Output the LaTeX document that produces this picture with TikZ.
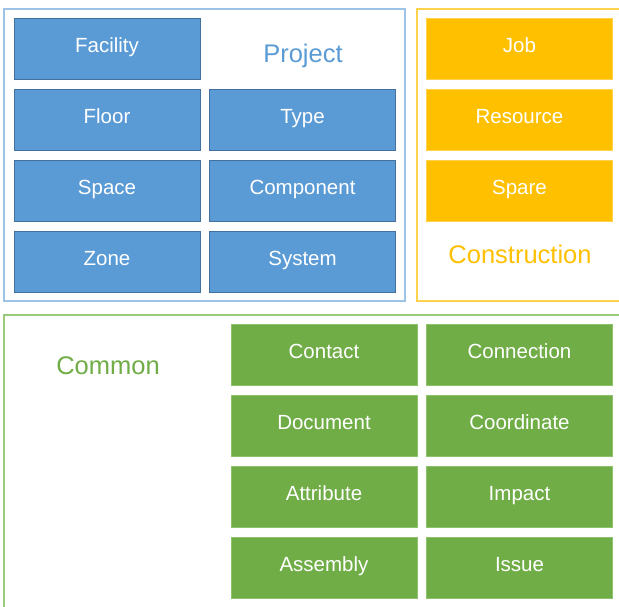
\documentclass[tikz,border=0pt]{standalone}
\usepackage{fontspec}
\setmainfont{Liberation Sans}
\definecolor{projfill}{HTML}{5B9BD5}
\definecolor{projedge}{HTML}{41719C}
\definecolor{projframe}{HTML}{9DC3E6}
\definecolor{consfill}{HTML}{FFC000}
\definecolor{consedge}{HTML}{FFD24D}
\definecolor{consframe}{HTML}{FFD24D}
\definecolor{commfill}{HTML}{70AD47}
\definecolor{commedge}{HTML}{8DC26A}
\definecolor{commframe}{HTML}{9BCB7A}
\tikzset{
  tile/.style={rectangle, inner sep=0pt, line width=1pt,
    minimum width=186pt, minimum height=61pt,
    text height=15pt, text depth=8pt, text=white,
    font=\fontsize{20.5}{20.5}\selectfont},
  projtile/.style={tile, fill=projfill, draw=projedge},
  constile/.style={tile, fill=consfill, draw=consedge},
  commtile/.style={tile, fill=commfill, draw=commedge},
  frame/.style={line width=1.5pt},
  title/.style={font=\fontsize{25.5}{25.5}\selectfont, inner sep=0pt,
    text height=18.5pt, text depth=0pt}
}
\begin{document}
\begin{tikzpicture}[x=1pt,y=-1pt]
\useasboundingbox (0,0) rectangle (619,607);
\fill[white] (0,0) rectangle (619,607);

% group frames
\draw[frame, projframe] (4,9) rectangle (405,301);
\draw[frame, consframe] (417,9) rectangle (630,301);
\draw[frame, commframe] (4,315) rectangle (630,620);

% Project group
\node[projtile] (facility)  at (107,49)  {Facility};
\node[projtile] (floor)     at (107,120) {Floor};
\node[projtile] (space)     at (107,191) {Space};
\node[projtile] (zone)      at (107,262) {Zone};
\node[projtile] (type)      at (302.5,120) {Type};
\node[projtile] (component) at (302.5,191) {Component};
\node[projtile] (system)    at (302.5,262) {System};
\node[title, text=projfill] (project) at (303,53) {Project};

% Construction group
\node[constile] (job)      at (519.5,49)  {Job};
\node[constile] (resource) at (519.5,120) {Resource};
\node[constile] (spare)    at (519.5,191) {Spare};
\node[title, text=consfill] (construction) at (520,254) {Construction};

% Common group
\node[commtile] (contact)    at (324,355) {Contact};
\node[commtile] (document)   at (324,426) {Document};
\node[commtile] (attribute)  at (324,497) {Attribute};
\node[commtile] (assembly)   at (324,568) {Assembly};
\node[commtile] (connection) at (519.5,355) {Connection};
\node[commtile] (coordinate) at (519.5,426) {Coordinate};
\node[commtile] (impact)     at (519.5,497) {Impact};
\node[commtile] (issue)      at (519.5,568) {Issue};
\node[title, text=commfill] (common) at (108,365) {Common};
\end{tikzpicture}
\end{document}
